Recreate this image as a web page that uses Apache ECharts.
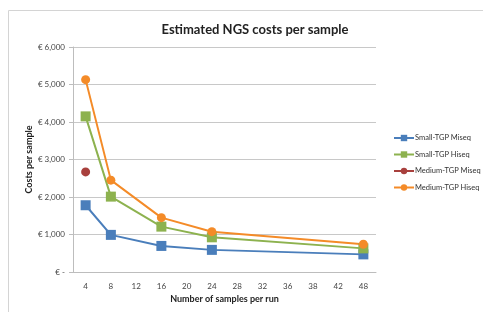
<!DOCTYPE html>
<html>
<head>
<meta charset="utf-8">
<script src="https://cdn.jsdelivr.net/npm/echarts@6/dist/echarts.min.js"></script>
<style>
  html, body { margin: 0; padding: 0; background: #fff; }
  #chart { width: 483px; height: 312px; }
</style>
</head>
<body>
<div id="chart"></div>
<script>
// x categories (as printed on the axis)
const samplesPerRun = ['4', '8', '12', '16', '20', '24', '28', '32', '36', '38', '42', '48'];
// costs per sample, null = no point at that category
const smallMiseq  = [1780, 990, null, 695, null, 590, null, null, null, null, null, 470];
const smallHiseq  = [4150, 2010, null, 1210, null, 925, null, null, null, null, null, 630];
const mediumMiseq = [2670, null, null, null, null, null, null, null, null, null, null, null];
const mediumHiseq = [5130, 2450, null, 1450, null, 1075, null, null, null, null, null, 740];

const font = 'Lato, "Open Sans", sans-serif';

const chart = echarts.init(document.getElementById('chart'), null, { renderer: 'canvas' });

function mkSeries(name, data, color, symbol, size) {
  return {
    name: name,
    type: 'line',
    data: data,
    connectNulls: true,
    symbol: symbol,
    symbolSize: size,
    itemStyle: { color: color },
    lineStyle: { color: color, width: 2 },
    emphasis: { disabled: true }
  };
}

const option = {
  animation: false,
  graphic: [{
    type: 'rect',
    shape: { x: 8.5, y: 10.5, width: 490, height: 310 },
    style: { fill: 'none', stroke: '#d4d4d4', lineWidth: 1 },
    silent: true
  }],
  title: {
    text: 'Estimated NGS costs per sample',
    left: 250,
    textAlign: 'center',
    top: 18,
    textStyle: { fontFamily: font, fontSize: 13, fontWeight: 'bold', color: '#222' }
  },
  legend: {
    orient: 'vertical',
    left: 388,
    top: 129,
    itemGap: 8.5,
    itemWidth: 20,
    itemHeight: 8,
    textStyle: { fontFamily: font, fontSize: 7.5, color: '#333', padding: [0, 0, 0, -4] },
    data: ['Small-TGP Miseq', 'Small-TGP Hiseq', 'Medium-TGP Miseq', 'Medium-TGP Hiseq']
  },
  grid: { left: 73, right: 107, top: 47, bottom: 40, containLabel: false },
  xAxis: {
    type: 'category',
    data: samplesPerRun,
    boundaryGap: true,
    name: 'Number of samples per run',
    nameLocation: 'middle',
    nameGap: 23,
    nameTextStyle: { fontFamily: font, fontSize: 9, fontWeight: 'bold', color: '#222' },
    axisLine: { lineStyle: { color: '#bdbdbd' } },
    axisTick: { show: false },
    axisLabel: { fontFamily: font, fontSize: 8, color: '#444', margin: 10 }
  },
  yAxis: {
    type: 'value',
    min: 0,
    max: 6000,
    interval: 1000,
    name: 'Costs per sample',
    nameLocation: 'middle',
    nameGap: 39,
    nameMoveOverlap: false,
    nameTextStyle: { fontFamily: font, fontSize: 9, fontWeight: 'bold', color: '#222' },
    axisLine: { show: true, lineStyle: { color: '#bdbdbd' } },
    axisTick: { show: true, length: 4, lineStyle: { color: '#bdbdbd' } },
    splitLine: { lineStyle: { color: '#c8c8c8' } },
    axisLabel: {
      fontFamily: font, fontSize: 8, color: '#444', margin: 8,
      formatter: v => v === 0 ? '€ -' : '€ ' + v.toLocaleString('en-US')
    }
  },
  series: [
    mkSeries('Small-TGP Miseq', smallMiseq, '#4a7ebb', 'rect', 10),
    mkSeries('Small-TGP Hiseq', smallHiseq, '#8db24f', 'rect', 10),
    mkSeries('Medium-TGP Miseq', mediumMiseq, '#a8403d', 'circle', 9),
    mkSeries('Medium-TGP Hiseq', mediumHiseq, '#f48b28', 'circle', 9)
  ]
};

chart.setOption(option);
</script>
</body>
</html>
